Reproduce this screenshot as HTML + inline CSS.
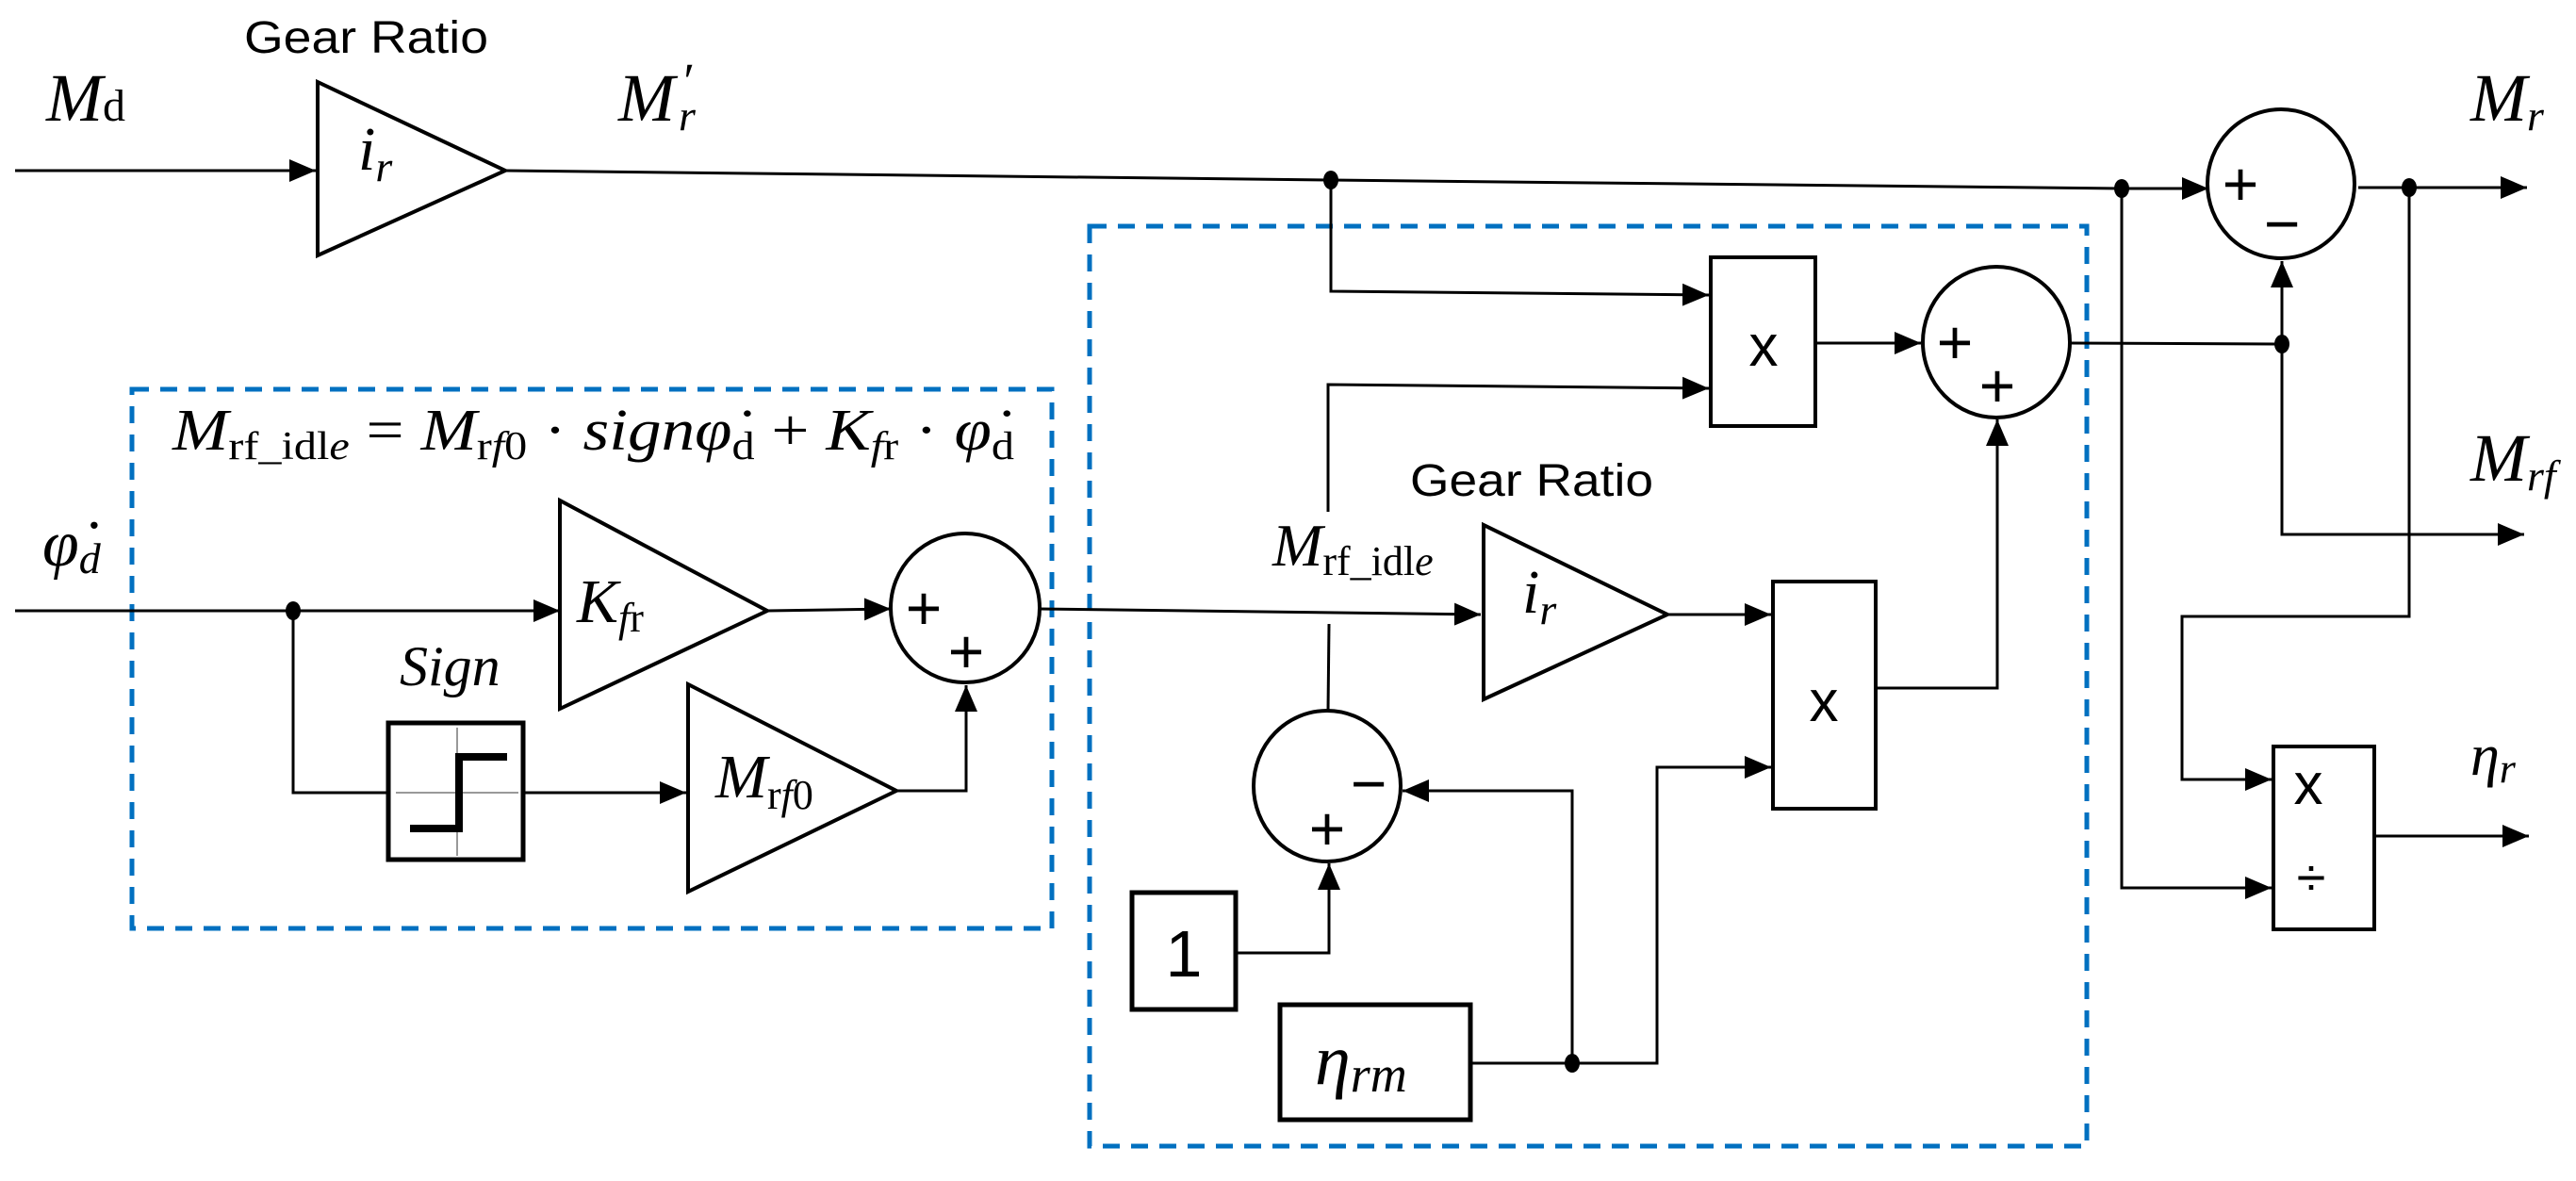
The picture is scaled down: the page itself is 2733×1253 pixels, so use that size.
<!DOCTYPE html>
<html><head><meta charset="utf-8"><style>
html,body{margin:0;padding:0;background:#fff;}
svg{display:block;}
.m{font-family:"Liberation Serif","DejaVu Serif",serif;font-style:italic;}
.r{font-family:"Liberation Serif","DejaVu Serif",serif;font-style:normal;}
.s{font-family:"Liberation Sans Narrow","Liberation Sans",sans-serif;}
</style></head><body>
<svg width="2733" height="1253" viewBox="0 0 2733 1253" xmlns="http://www.w3.org/2000/svg">
<defs>
<marker id="a" markerUnits="userSpaceOnUse" markerWidth="30" markerHeight="24" refX="28" refY="12" orient="auto">
<path d="M0,0 L28,12 L0,24 Z" fill="#000"/>
</marker>
</defs>
<g fill="none" stroke="#000" stroke-width="3">
<rect x="140" y="413" width="976" height="572" stroke="#0070C0" stroke-width="5" stroke-dasharray="18 12"/>
<rect x="1156" y="240" width="1058" height="976" stroke="#0070C0" stroke-width="5" stroke-dasharray="18 12"/>

<line x1="16" y1="181" x2="335" y2="181" marker-end="url(#a)"/>
<polygon points="337,87 337,271 536,181" stroke-width="4"/>
<polyline points="536,181 1412,191 2251,200 2343,200" marker-end="url(#a)"/>
<line x1="2502" y1="199" x2="2681" y2="199" marker-end="url(#a)"/>
<ellipse cx="2420" cy="195" rx="78" ry="79" stroke-width="4"/>

<polyline points="1412,191 1412,309 1813,313" marker-end="url(#a)"/>
<polyline points="1409,543 1409,408 1813,412" marker-end="url(#a)"/>
<rect x="1815" y="273" width="111" height="179" stroke-width="4"/>
<line x1="1926" y1="364" x2="2038" y2="364" marker-end="url(#a)"/>
<ellipse cx="2118" cy="363" rx="78" ry="80" stroke-width="4"/>
<polyline points="2196,364 2421,365"/>
<line x1="2421" y1="365" x2="2421" y2="277" marker-end="url(#a)"/>
<polyline points="2421,365 2421,567 2678,567" marker-end="url(#a)"/>

<polyline points="2251,200 2251,942 2410,942" marker-end="url(#a)"/>
<polyline points="2556,199 2556,654 2315,654 2315,827 2410,827" marker-end="url(#a)"/>
<rect x="2412" y="792" width="107" height="194" stroke-width="4"/>
<line x1="2519" y1="887" x2="2683" y2="887" marker-end="url(#a)"/>

<line x1="16" y1="648" x2="594" y2="648" marker-end="url(#a)"/>
<polygon points="594,531 594,752 814,648" stroke-width="4"/>
<line x1="814" y1="648" x2="945" y2="646" marker-end="url(#a)"/>
<ellipse cx="1024" cy="645" rx="79" ry="79" stroke-width="4"/>
<polyline points="311,648 311,841 412,841"/>
<rect x="412" y="767" width="143" height="145" stroke-width="5"/>
<line x1="420" y1="841" x2="550" y2="841" stroke="#999" stroke-width="2"/>
<line x1="485" y1="772" x2="485" y2="908" stroke="#999" stroke-width="2"/>
<polyline points="435,879 487,879 487,803 538,803" stroke-width="8"/>
<line x1="555" y1="841" x2="728" y2="841" marker-end="url(#a)"/>
<polygon points="730,726 730,946 951,839" stroke-width="4"/>
<polyline points="951,839 1025,839 1025,727" marker-end="url(#a)"/>

<line x1="1103" y1="646" x2="1571" y2="652" marker-end="url(#a)"/>
<polygon points="1574,557 1574,742 1769,652" stroke-width="4"/>
<line x1="1769" y1="652" x2="1879" y2="652" marker-end="url(#a)"/>
<rect x="1881" y="617" width="109" height="241" stroke-width="4"/>
<polyline points="1990,730 2119,730 2119,445" marker-end="url(#a)"/>
<line x1="1410" y1="662" x2="1409" y2="754"/>
<ellipse cx="1408" cy="834" rx="78" ry="80" stroke-width="4"/>
<rect x="1201" y="947" width="110" height="124" stroke-width="5"/>
<polyline points="1311,1011 1410,1011 1410,916" marker-end="url(#a)"/>
<rect x="1358" y="1066" width="202" height="122" stroke-width="5"/>
<polyline points="1560,1128 1758,1128 1758,814 1879,814" marker-end="url(#a)"/>
<polyline points="1668,1128 1668,839 1488,839" marker-end="url(#a)"/>
</g>
<g fill="#000">
<ellipse cx="1412" cy="191" rx="8" ry="10"/>
<ellipse cx="2251" cy="200" rx="8" ry="10"/>
<ellipse cx="2556" cy="199" rx="8" ry="10"/>
<ellipse cx="2421" cy="365" rx="8" ry="10"/>
<ellipse cx="311" cy="648" rx="8" ry="10"/>
<ellipse cx="1668" cy="1128" rx="8" ry="10"/>
</g>

<g font-size="72">
<text class="s" x="259" y="56" font-size="48" textLength="259" lengthAdjust="spacingAndGlyphs">Gear Ratio</text>
<text class="s" x="1496" y="526" font-size="48" textLength="258" lengthAdjust="spacingAndGlyphs">Gear Ratio</text>
<text class="m" x="49" y="128">M<tspan class="r" font-size="48">d</tspan></text>
<text class="m" x="380" y="180" font-size="66">i<tspan font-size="46" dy="12">r</tspan></text>
<text class="m" x="656" y="128">M</text>
<text class="m" x="720" y="138" font-size="46">r</text>
<text class="m" x="722" y="104" font-size="54">′</text>
<text class="m" x="2621" y="128">M<tspan font-size="46" dy="10">r</tspan></text>
<text class="m" x="2621" y="510">M<tspan font-size="46" dy="10">rf</tspan></text>
<text class="m" x="2621" y="822" font-size="62">η<tspan font-size="44" dy="8">r</tspan></text>
<text class="m" x="45" y="600" font-size="70">φ̇<tspan font-size="46" dy="8">d</tspan></text>
<text class="m" x="183" y="477" font-size="62" textLength="893" lengthAdjust="spacingAndGlyphs">M<tspan class="r" font-size="42" dy="10">rf_idl</tspan><tspan font-size="42">e</tspan><tspan class="r" dy="-10"> = </tspan>M<tspan class="r" font-size="42" dy="10">r</tspan><tspan font-size="42">f</tspan><tspan class="r" font-size="42">0</tspan><tspan class="r" dy="-10"> · </tspan>signφ̇<tspan class="r" font-size="42" dy="10">d</tspan><tspan class="r" dy="-10"> + </tspan>K<tspan font-size="42" dy="10">f</tspan><tspan class="r" font-size="42">r</tspan><tspan class="r" dy="-10"> · </tspan>φ̇<tspan class="r" font-size="42" dy="10">d</tspan></text>
<text class="m" x="612" y="660" font-size="66">K<tspan font-size="44" dy="10">f</tspan><tspan class="r" font-size="44">r</tspan></text>
<text class="m" x="424" y="727" font-size="60">Sign</text>
<text class="m" x="759" y="846" font-size="66">M<tspan class="r" font-size="44" dy="12">r</tspan><tspan font-size="44">f</tspan><tspan class="r" font-size="44">0</tspan></text>
<text class="m" x="1350" y="600" font-size="64">M<tspan class="r" font-size="44" dy="10">rf_idl</tspan><tspan font-size="44">e</tspan></text>
<text class="m" x="1615" y="650" font-size="66">i<tspan font-size="46" dy="12">r</tspan></text>
<text class="m" x="1395" y="1150" font-size="76">η<tspan font-size="54" dy="8">rm</tspan></text>
</g>
<g font-family="Liberation Sans, sans-serif" text-anchor="middle" fill="#000">
<text x="1256" y="1036" font-size="70">1</text>
<text x="1871" y="388" font-size="62">x</text>
<text x="1935" y="765" font-size="62">x</text>
<text x="2449" y="853" font-size="62">x</text>
<text x="2452" y="950" font-size="56">÷</text>
<text x="980" y="668" font-size="66">+</text>
<text x="1025" y="714" font-size="66">+</text>
<text x="2074" y="386" font-size="66">+</text>
<text x="2119" y="432" font-size="66">+</text>
<text x="2377" y="218" font-size="66">+</text>
<text x="2421" y="260" font-size="66">−</text>
<text x="1452" y="854" font-size="66">−</text>
<text x="1408" y="902" font-size="66">+</text>
</g>
</svg>
</body></html>
